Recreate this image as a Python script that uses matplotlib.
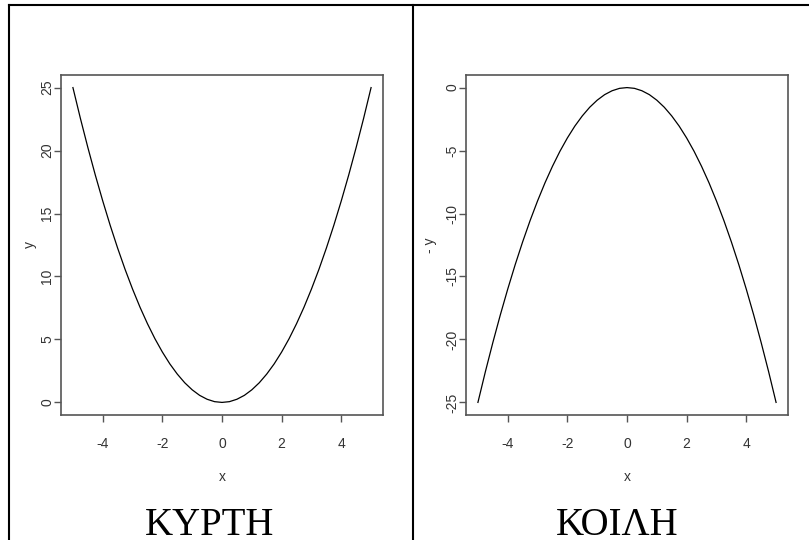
import matplotlib
matplotlib.use('Agg')
import matplotlib.pyplot as plt
from matplotlib.lines import Line2D

# values
x = [-5.0, -4.75, -4.5, -4.25, -4.0, -3.75, -3.5, -3.25, -3.0, -2.75, -2.5,
     -2.25, -2.0, -1.75, -1.5, -1.25, -1.0, -0.75, -0.5, -0.25, 0.0,
     0.25, 0.5, 0.75, 1.0, 1.25, 1.5, 1.75, 2.0, 2.25, 2.5,
     2.75, 3.0, 3.25, 3.5, 3.75, 4.0, 4.25, 4.5, 4.75, 5.0]
y = [25.0, 22.56, 20.25, 18.06, 16.0, 14.06, 12.25, 10.56, 9.0, 7.56, 6.25,
     5.06, 4.0, 3.06, 2.25, 1.56, 1.0, 0.56, 0.25, 0.06, 0.0,
     0.06, 0.25, 0.56, 1.0, 1.56, 2.25, 3.06, 4.0, 5.06, 6.25,
     7.56, 9.0, 10.56, 12.25, 14.06, 16.0, 18.06, 20.25, 22.56, 25.0]
y_neg = [-25.0, -22.56, -20.25, -18.06, -16.0, -14.06, -12.25, -10.56, -9.0, -7.56, -6.25,
         -5.06, -4.0, -3.06, -2.25, -1.56, -1.0, -0.56, -0.25, -0.06, 0.0,
         -0.06, -0.25, -0.56, -1.0, -1.56, -2.25, -3.06, -4.0, -5.06, -6.25,
         -7.56, -9.0, -10.56, -12.25, -14.06, -16.0, -18.06, -20.25, -22.56, -25.0]
xticks = [-4, -2, 0, 2, 4]
yticks_left = [0, 5, 10, 15, 20, 25]
yticks_right = [0, -5, -10, -15, -20, -25]
titles = ['ΚΥΡΤΗ', 'ΚΟΙΛΗ']
ylabels = ['y', '- y']

plt.rcParams['font.family'] = ['Liberation Sans', 'DejaVu Sans']

W, H = 809, 540
fig = plt.figure(figsize=(W / 100, H / 100), dpi=100)


def px_axes(left, right, top, bottom):
    return fig.add_axes([left / W, (H - bottom) / H, (right - left) / W, (bottom - top) / H])


ax1 = px_axes(61, 383, 75, 415)
ax2 = px_axes(466, 788, 75, 415)

panels = [(ax1, y, yticks_left, -0.096, 210), (ax2, y_neg, yticks_right, -0.112, 617)]
for i, (ax, yy, yt, ylab_x, title_x) in enumerate(panels):
    ax.plot(x, yy, color='black', lw=0.9)
    ax.set_xlim(-5.4, 5.4)
    ax.set_ylim(min(yy) - 1.0, max(yy) + 1.0)
    ax.set_xticks(xticks)
    ax.set_yticks(yt)
    ax.set_xticklabels([str(t) for t in xticks])
    ax.set_yticklabels([str(t) for t in yt], rotation=90, va='center')
    ax.tick_params(direction='out', length=5, width=1, color='#555555',
                   labelcolor='#333333', labelsize=10)
    ax.tick_params(axis='x', pad=10.5)
    ax.tick_params(axis='y', pad=0)
    for s in ax.spines.values():
        s.set_color('#555555')
        s.set_linewidth(1.2)
    ax.set_xlabel('x', fontsize=10, color='#333333')
    ax.xaxis.set_label_coords(0.5, -0.182)
    ax.xaxis.label.set_va('center')
    ax.set_ylabel(ylabels[i], fontsize=10, color='#333333')
    ax.yaxis.set_label_coords(ylab_x, 0.5)
    ax.yaxis.label.set_va('center')
    fig.text(title_x / W, (H - 535) / H, titles[i], ha='center', va='baseline',
             fontsize=28, family=['Liberation Serif', 'DejaVu Serif'], color='black')

# outer frame and divider
fy = (H - 5) / H
fig.add_artist(Line2D([9 / W, 9 / W], [0, fy], color='black', lw=1.5, transform=fig.transFigure))
fig.add_artist(Line2D([9 / W, 1], [fy, fy], color='black', lw=1.5, transform=fig.transFigure))
fig.add_artist(Line2D([413 / W, 413 / W], [0, fy], color='black', lw=1.5, transform=fig.transFigure))

fig.savefig('out.png', dpi=100)
